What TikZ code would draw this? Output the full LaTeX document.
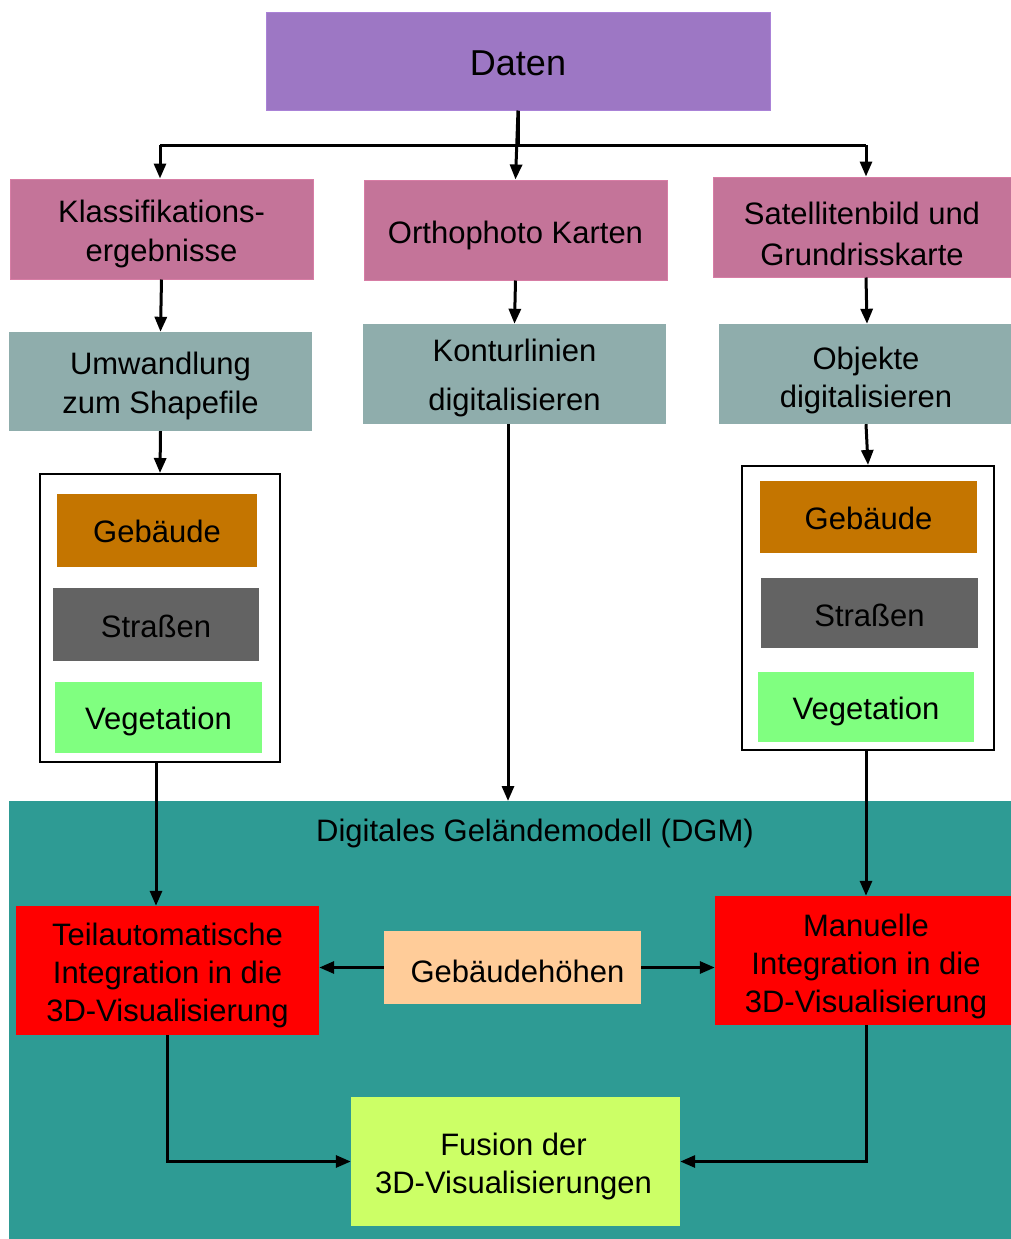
\documentclass[tikz,border=0pt]{standalone}
\usepackage{fontspec}
\setmainfont{Liberation Sans}
\usetikzlibrary{arrows.meta}
\definecolor{purp}{RGB}{157,119,196}
\definecolor{purpB}{RGB}{170,130,215}
\definecolor{pinkb}{RGB}{196,116,153}
\definecolor{pinkB}{RGB}{215,125,165}
\definecolor{grayteal}{RGB}{143,173,172}
\definecolor{orng}{RGB}{196,117,0}
\definecolor{darkg}{RGB}{99,99,99}
\definecolor{lgreen}{RGB}{128,255,128}
\definecolor{tealbg}{RGB}{46,155,148}
\definecolor{peach}{RGB}{255,204,153}
\definecolor{limeg}{RGB}{204,255,102}
\begin{document}
\begin{tikzpicture}[x=1pt,y=-1pt,
  bx/.style={inner sep=0pt},
  txt/.style={inner sep=0pt, align=center, font=\fontsize{31}{39}\selectfont, yshift=-4pt},
  ln/.style={line width=3pt},
  arr/.style={line width=3pt, -{Triangle[length=15pt,width=12pt]}},
  frame/.style={draw=black, line width=2pt, fill=white, inner sep=0pt}]
\useasboundingbox (0,0) rectangle (1011,1239);
% DGM background
\node[fill=tealbg, inner sep=0pt, minimum width=1002pt, minimum height=438pt, anchor=north west] (dgm) at (9,801) {};
\node[txt, yshift=1pt] (dgmlabel) at (535,830) {Digitales Geländemodell (DGM)};
% top
\node[bx, fill=purp, draw=purpB, line width=1pt, minimum width=504pt, minimum height=97pt,
  label={[txt, yshift=2pt, font=\fontsize{36}{40}\selectfont]center:Daten}] (daten) at (518,61.5) {};
\node[bx, fill=pinkb, draw=pinkB, line width=1pt, minimum width=303pt, minimum height=100pt,
  label={[txt, yshift=-1pt]center:{Klassifikations-\\ergebnisse}}] (klass) at (161.5,229) {};
\node[bx, fill=pinkb, draw=pinkB, line width=1pt, minimum width=303pt, minimum height=100pt,
  label={[txt, yshift=-1pt]center:Orthophoto Karten}] (ortho) at (515.5,230) {};
\node[bx, fill=pinkb, draw=pinkB, line width=1pt, minimum width=298pt, minimum height=100pt,
  label={[txt, yshift=-3pt, font=\fontsize{31}{41}\selectfont]center:{Satellitenbild und\\Grundrisskarte}}] (sat) at (862,227) {};
% second row
\node[bx, fill=grayteal, minimum width=303pt, minimum height=99pt,
  label={[txt]center:{Umwandlung\\zum Shapefile}}] (umw) at (160.5,381.5) {};
\node[bx, fill=grayteal, minimum width=303pt, minimum height=100pt,
  label={[txt, font=\fontsize{31}{49}\selectfont]center:{Konturlinien\\digitalisieren}}] (kontur) at (514.5,374) {};
\node[bx, fill=grayteal, minimum width=295pt, minimum height=100pt,
  label={[txt, yshift=-2pt, font=\fontsize{31}{38}\selectfont]center:{Objekte\\digitalisieren}}] (obj) at (866,374) {};
% left frame
\node[frame, minimum width=240pt, minimum height=288pt] (lbox) at (160,618) {};
\node[bx, fill=orng, minimum width=200pt, minimum height=73pt,
  label={[txt, yshift=3pt]center:Gebäude}] (lgeb) at (157,530.5) {};
\node[bx, fill=darkg, minimum width=206pt, minimum height=73pt,
  label={[txt, yshift=2pt]center:Straßen}] (lstr) at (156,624.5) {};
\node[bx, fill=lgreen, minimum width=207pt, minimum height=71pt,
  label={[txt]center:Vegetation}] (lveg) at (158.5,717.5) {};
% right frame
\node[frame, minimum width=252pt, minimum height=284pt] (rbox) at (868,608) {};
\node[bx, fill=orng, minimum width=217pt, minimum height=72pt,
  label={[txt, yshift=3pt]center:Gebäude}] (rgeb) at (868.5,517) {};
\node[bx, fill=darkg, minimum width=217pt, minimum height=70pt,
  label={[txt, yshift=2pt]center:Straßen}] (rstr) at (869.5,613) {};
\node[bx, fill=lgreen, minimum width=216pt, minimum height=70pt,
  label={[txt]center:Vegetation}] (rveg) at (866,707) {};
% bottom
\node[bx, fill=red, minimum width=303pt, minimum height=129pt,
  label={[txt, yshift=-1pt, font=\fontsize{31}{38}\selectfont]center:{Teilautomatische\\Integration in die\\3D-Visualisierung}}] (teil) at (167.5,970.5) {};
\node[bx, fill=peach, minimum width=257pt, minimum height=73pt,
  label={[txt, xshift=5pt]center:Gebäudehöhen}] (geb) at (512.5,967.5) {};
\node[bx, fill=red, minimum width=296pt, minimum height=129pt,
  label={[txt, yshift=-2pt, xshift=3pt, font=\fontsize{31}{38}\selectfont]center:{Manuelle\\Integration in die\\3D-Visualisierung}}] (man) at (863,960.5) {};
\node[bx, fill=limeg, minimum width=329pt, minimum height=129pt,
  label={[txt, yshift=-1pt, xshift=-2pt, font=\fontsize{31}{38}\selectfont]center:{Fusion der\\3D-Visualisierungen}}] (fusion) at (515.5,1161.5) {};
% connectors
\coordinate (bus) at (518,145);
\coordinate (busL) at (160,145);
\coordinate (busR) at (866,145);
\draw[ln] (daten.south) -- (bus);
\draw[ln] (busL) -- (busR);
\draw[arr] (busL) -- (busL |- klass.north);
\draw[arr] (daten.south) -- (ortho.north);
\draw[arr] (busR) -- (busR |- sat.north);
\draw[arr] (klass.south) -- (umw.north);
\draw[arr] (ortho.south) -- (kontur.north);
\draw[arr] ([xshift=4pt]sat.south) -- ([xshift=1pt]obj.north);
\draw[arr] (umw.south) -- (lbox.north);
\draw[arr] (obj.south) -- (rbox.north);
\draw[arr] ([xshift=-6.5pt]kontur.south) -- ([xshift=-6.5pt]kontur.south |- dgm.north);
\draw[arr] ([xshift=-4pt]lbox.south) -- ([xshift=-4pt]lbox.south |- teil.north);
\draw[arr] ([xshift=-2pt]rbox.south) -- ([xshift=-2pt]rbox.south |- man.north);
\draw[arr] (geb.west) -- (geb.west -| teil.east);
\draw[arr] (geb.east) -- (geb.east -| man.west);
\draw[arr] (teil.south) |- (fusion.west);
\draw[arr] ([xshift=3pt]man.south) |- (fusion.east);
\end{tikzpicture}
\end{document}
